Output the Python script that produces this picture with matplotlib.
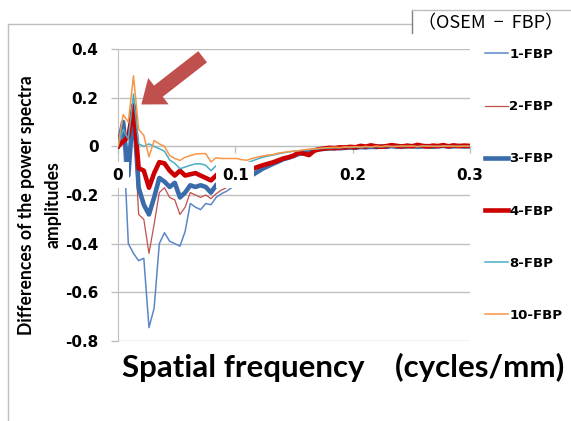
import numpy as np
import matplotlib
matplotlib.use('Agg')
import matplotlib.pyplot as plt
from matplotlib.lines import Line2D

# spatial frequency sampling (cycles/mm)
freq = np.arange(69) * 0.0044

fbp1 = [0, 0.06, -0.40, -0.44, -0.47, -0.46, -0.745, -0.665, -0.40, -0.355, -0.39, -0.40,
        -0.41, -0.35, -0.235, -0.25, -0.26, -0.235, -0.24, -0.21, -0.195, -0.185, -0.17,
        -0.16, -0.15, -0.14, -0.125, -0.11, -0.095, -0.085, -0.075, -0.065, -0.055, -0.048,
        -0.04, -0.032, -0.027, -0.022, -0.017, -0.012, -0.01,
        -0.008, -0.006, -0.007, -0.005, -0.006, -0.003, -0.004, -0.002, -0.004, -0.001,
        -0.003, 0.0, -0.002, -0.001, -0.003, 0.0, -0.002, 0.001, -0.002, 0.0, -0.001,
        -0.003, 0.0, -0.002, 0.001, -0.001, -0.002, 0.0]
fbp2 = [0, 0.07, -0.06, 0.12, -0.28, -0.30, -0.44, -0.32, -0.19, -0.17, -0.21, -0.22,
        -0.28, -0.25, -0.19, -0.20, -0.21, -0.20, -0.215, -0.195, -0.18, -0.17, -0.16,
        -0.15, -0.14, -0.125, -0.115, -0.10, -0.09, -0.08, -0.07, -0.062, -0.052, -0.046,
        -0.038, -0.03, -0.026, -0.02, -0.015, -0.011, -0.009,
        -0.007, -0.008, -0.005, -0.006, -0.004, -0.005, -0.002, -0.003, -0.001, -0.003,
        0.001, -0.002, 0.0, -0.002, 0.001, -0.001, 0.0, -0.002, 0.001, -0.001, 0.0,
        -0.002, 0.001, 0.0, -0.001, 0.002, 0.0, -0.001]
fbp3 = [0, 0.10, -0.12, 0.17, -0.17, -0.24, -0.28, -0.21, -0.13, -0.145, -0.167, -0.15,
        -0.21, -0.19, -0.16, -0.167, -0.16, -0.167, -0.19, -0.16, -0.14, -0.135, -0.14,
        -0.145, -0.14, -0.13, -0.118, -0.105, -0.092, -0.082, -0.072, -0.063, -0.053, -0.047,
        -0.04, -0.031, -0.028, -0.022, -0.016, -0.012, -0.01,
        -0.009, -0.007, -0.008, -0.006, -0.005, -0.006, -0.003, -0.004, -0.002, -0.003,
        -0.001, -0.002, 0.001, -0.002, 0.0, -0.001, 0.001, -0.002, 0.0, 0.001, -0.002,
        0.0, 0.002, -0.001, 0.0, 0.001, -0.001, 0.0]
fbp4 = [0, 0.02, 0.04, 0.165, -0.09, -0.10, -0.17, -0.11, -0.065, -0.07, -0.10, -0.12,
        -0.10, -0.12, -0.115, -0.11, -0.12, -0.13, -0.14, -0.12, -0.10, -0.11, -0.115,
        -0.115, -0.11, -0.10, -0.093, -0.085, -0.078, -0.072, -0.066, -0.058, -0.05, -0.045,
        -0.038, -0.026, -0.03, -0.036, -0.018, -0.012, -0.009,
        -0.006, -0.008, -0.004, -0.005, -0.002, -0.004, 0.002, -0.001, 0.004, 0.0,
        -0.002, 0.001, 0.005, 0.002, -0.001, 0.003, 0.0, 0.006, 0.002, -0.001, 0.003,
        0.001, 0.005, 0.0, 0.004, 0.001, 0.003, 0.002]
fbp8 = [0, 0.07, 0.03, 0.215, 0.01, 0.0, 0.01, 0.0, -0.01, -0.02, -0.056, -0.07,
        -0.092, -0.085, -0.078, -0.072, -0.072, -0.078, -0.10, -0.08, -0.075, -0.07, -0.068,
        -0.068, -0.07, -0.068, -0.06, -0.052, -0.045, -0.04, -0.036, -0.031, -0.027, -0.023,
        -0.02, -0.018, -0.016, -0.014, -0.012, -0.01, -0.008,
        -0.007, -0.006, -0.006, -0.004, -0.005, -0.003, -0.004, -0.002, -0.003, -0.001,
        -0.002, 0.0, -0.002, 0.001, -0.001, 0.0, 0.001, -0.001, 0.0, 0.002, -0.001,
        0.001, 0.0, 0.002, -0.001, 0.001, 0.0, 0.001]
fbp10 = [0, 0.13, 0.10, 0.29, 0.07, 0.045, -0.043, 0.024, 0.01, 0.0, -0.038, -0.05,
         -0.058, -0.045, -0.038, -0.032, -0.03, -0.03, -0.064, -0.047, -0.05, -0.05, -0.05,
         -0.05, -0.055, -0.057, -0.05, -0.044, -0.04, -0.036, -0.034, -0.028, -0.025, -0.022,
         -0.02, -0.018, -0.014, -0.012, -0.01, -0.008, -0.006,
         -0.005, -0.004, -0.005, -0.002, -0.003, -0.001, -0.003, 0.0, -0.002, 0.001,
         -0.001, 0.002, 0.0, -0.001, 0.002, 0.0, 0.001, -0.001, 0.002, 0.0, 0.001,
         -0.001, 0.002, 0.0, 0.001, -0.001, 0.001, 0.0]

series = [
    ('1-FBP', fbp1, '#5B87C6', 1.1),
    ('2-FBP', fbp2, '#C0504D', 0.9),
    ('3-FBP', fbp3, '#3A6BAA', 3.3),
    ('4-FBP', fbp4, '#CC0000', 3.3),
    ('8-FBP', fbp8, '#4BACC6', 1.1),
    ('10-FBP', fbp10, '#F79646', 1.1),
]
xticks = [0, 0.1, 0.2, 0.3]
xtick_labels = ['0', '0.1', '0.2', '0.3']
yticks = [0.4, 0.2, 0, -0.2, -0.4, -0.6, -0.8]
ytick_labels = ['0.4', '0.2', '0', '-0.2', '-0.4', '-0.6', '-0.8']

W, H = 571, 421
fig = plt.figure(figsize=(W / 100, H / 100), dpi=100)
ax = fig.add_axes([118 / W, 1 - 341 / H, 352 / W, 292 / H])

for name, vals, color, lw in series:
    ax.plot(freq, vals, color=color, linewidth=lw, label=name, zorder=3)

ax.set_xlim(0, 0.3)
ax.set_ylim(-0.8, 0.4)
grid_c = '#BFBFBF'
ax.set_yticks(yticks)
ax.set_yticklabels(ytick_labels)
ax.yaxis.grid(True, color=grid_c, linewidth=1)
ax.set_axisbelow(True)
ax.tick_params(axis='y', direction='out', length=5, width=1, color=grid_c, pad=9,
               labelsize=11)
for t in ax.get_yticklabels():
    t.set_fontweight('bold')

# x axis sits at y = 0, labels drawn over the lines
ax.spines['bottom'].set_position(('data', 0))
ax.spines['bottom'].set_color(grid_c)
ax.spines['left'].set_color(grid_c)
ax.spines['top'].set_visible(False)
ax.spines['right'].set_visible(False)
ax.set_xticks(xticks)
ax.set_xticklabels([])
ax.tick_params(axis='x', direction='out', length=5, width=1, color=grid_c)
for xv, lbl in zip(xticks, xtick_labels):
    ax.text(xv, -0.118, lbl, ha='center', va='center', fontsize=11, fontweight='bold',
            zorder=6, bbox=dict(facecolor='white', edgecolor='none', pad=4))

# arrow pointing at the low-frequency peak
ax.annotate('', xy=(0.018, 0.165), xytext=(0.074, 0.375),
            arrowprops=dict(arrowstyle='simple,head_length=1.3,head_width=2.0,tail_width=0.85',
                            mutation_scale=12, color='#C0504D', lw=0), zorder=7)

fig.text(40 / W, 1 - 205 / H, 'Differences of the power spectra\namplitudes',
         rotation=90, ha='center', va='center', multialignment='center',
         fontsize=12.7, fontweight='bold', family='Lato', linespacing=1.65)
fig.text(343 / W, 1 - 367 / H, 'Spatial frequency    (cycles/mm)',
         ha='center', va='center', fontsize=22.5, fontweight='bold', family='Lato')

leg = fig.legend(loc='upper left', bbox_to_anchor=(485 / W, 1 - 48 / H), frameon=False,
                 prop=dict(size=9.5, weight='bold'), handlelength=1.75, handletextpad=0.1,
                 labelspacing=2.97, borderpad=0, borderaxespad=0)

# outer chart frame and the title box
fc = '#BFBFBF'
fig.add_artist(Line2D([8 / W, 8 / W], [0, 1 - 24 / H], transform=fig.transFigure, color=fc, lw=1))
fig.add_artist(Line2D([8 / W, 412 / W], [1 - 24 / H, 1 - 24 / H], transform=fig.transFigure, color=fc, lw=1))
fig.add_artist(Line2D([412 / W, 412 / W], [1 - 10 / H, 1 - 33 / H], transform=fig.transFigure, color='#808080', lw=1))
fig.add_artist(Line2D([412 / W, 1], [1 - 10 / H, 1 - 10 / H], transform=fig.transFigure, color=fc, lw=1))
fig.text(418 / W, 1 - 23 / H, '（OSEM  −  FBP）', ha='left', va='center', fontsize=13,
         family=['Noto Sans CJK JP', 'DejaVu Sans'])

fig.savefig('out.png', dpi=100)
